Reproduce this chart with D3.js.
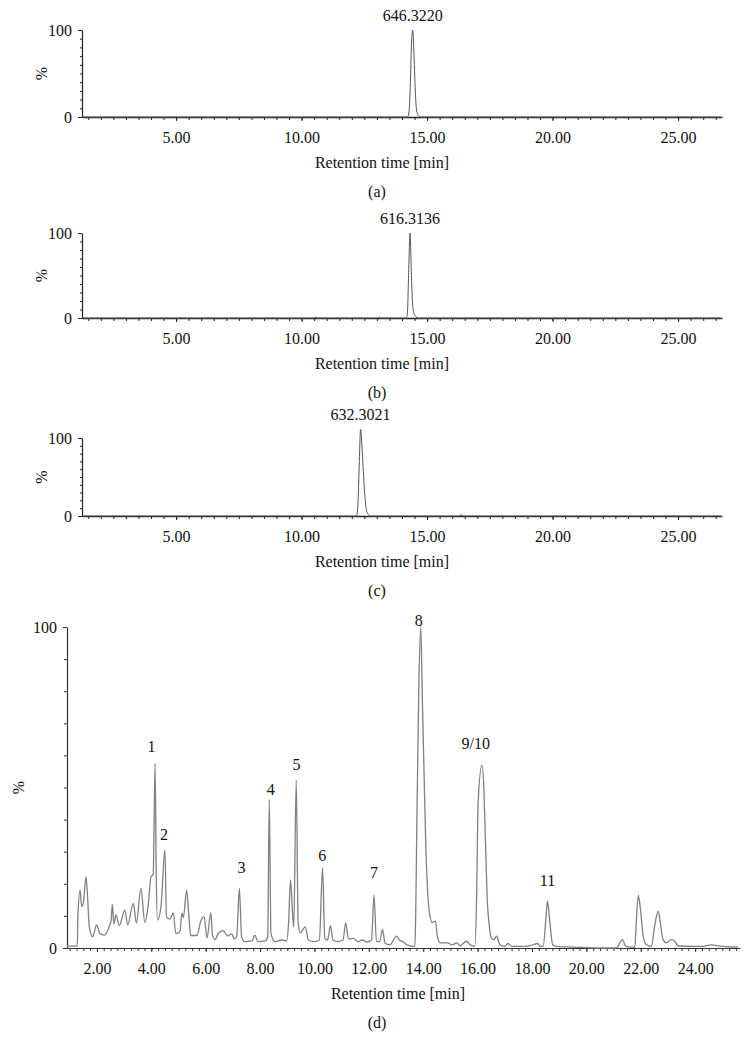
<!DOCTYPE html>
<html>
<head>
<meta charset="utf-8">
<script src="https://cdn.jsdelivr.net/npm/d3@7"></script>
<style>
  body { margin: 0; background: #fff; }
  text { font-family: "Liberation Serif", "DejaVu Serif", serif; fill: #111; }
</style>
</head>
<body>
<svg id="chart" width="755" height="1057"></svg>
<script>
// ---- panel (a): m/z 646.3220 ----
let aTime = [1.3, 14.22, 14.28, 14.34, 14.38, 14.43, 14.48, 14.53, 14.58, 14.65, 14.75, 26.7];
let aPct  = [0,   0,     6,     45,    85,    100,   70,    30,    8,     2,     0,     0];

// ---- panel (b): m/z 616.3136 ----
let bTime = [1.3, 10.5, 10.57, 10.64, 13.05, 13.1, 13.15, 14.18, 14.22, 14.27, 14.32, 14.37, 14.42, 14.48, 14.56, 14.66, 26.7];
let bPct  = [0,   0,    1.2,   0,     0,     1,    0,     0,     8,     60,    100,   55,    18,    5,     1.5,   0,     0];

// ---- panel (c): m/z 632.3021 ----
let cTime = [1.3, 12.19, 12.25, 12.3, 12.35, 12.42, 12.5, 12.58, 12.66, 12.75, 16.25, 16.35, 16.45, 26.7];
let cPct  = [0,   0,     20,    70,   111,   80,    35,   8,     2,     0,     0,     1.5,   0,     0];

let singleLabels = ["646.3220", "616.3136", "632.3021"];
let singleTicks = [5, 10, 15, 20, 25];

// ---- panel (d): total ion chromatogram ----
let dTime = [0.90, 1.28, 1.30, 1.38, 1.44, 1.50, 1.60, 1.65, 1.72, 1.84, 1.99, 2.10, 2.28, 2.45, 2.52, 2.57, 2.62, 2.70, 2.82, 3.03,
             3.13, 3.34, 3.45, 3.62, 3.76, 3.88, 3.99, 4.07, 4.14, 4.18, 4.23, 4.36, 4.50, 4.56, 4.68, 4.81, 4.90, 5.05, 5.13, 5.18,
             5.30, 5.38, 5.45, 5.68, 5.82, 5.94, 6.05, 6.19, 6.25, 6.35, 6.46, 6.65, 6.80, 6.96, 7.05, 7.14, 7.24, 7.32, 7.44, 7.70,
             7.81, 7.92, 8.20, 8.28, 8.34, 8.40, 8.55, 8.80, 8.98, 9.05, 9.12, 9.20, 9.24, 9.33, 9.40, 9.48, 9.66, 9.78, 10.00, 10.18,
             10.30, 10.38, 10.48, 10.59, 10.68, 10.85, 11.05, 11.15, 11.25, 11.43, 11.60, 11.75, 11.95, 12.10, 12.19, 12.28, 12.40, 12.50, 12.60, 12.77,
             13.02, 13.12, 13.25, 13.40, 13.69, 13.72, 13.76, 13.84, 13.91, 13.97, 14.04, 14.10, 14.16, 14.23, 14.33, 14.45, 14.52, 14.62, 14.90, 15.05,
             15.25, 15.35, 15.59, 15.72, 15.90, 15.96, 16.02, 16.16, 16.23, 16.29, 16.35, 16.43, 16.51, 16.60, 16.70, 16.82, 17.00, 17.12, 17.25, 17.70,
             18.05, 18.20, 18.30, 18.41, 18.51, 18.57, 18.66, 18.76, 18.90, 19.50, 20.50, 21.11, 21.23, 21.33, 21.45, 21.78, 21.84, 21.91, 21.99, 22.09,
             22.21, 22.39, 22.51, 22.64, 22.72, 22.82, 22.94, 23.13, 23.25, 23.37, 23.92, 24.29, 24.60, 24.72, 25.03, 25.58];
let dPct  = [0.6, 0.6, 9.8, 18.0, 12.9, 14.0, 22.2, 17.0, 6.6, 3.5, 7.2, 4.7, 4.0, 6.6, 8.5, 13.6, 7.5, 10.3, 7.0, 11.8,
             7.2, 13.9, 7.8, 18.6, 8.0, 12.9, 22.2, 23.0, 57.5, 24.0, 8.7, 13.2, 30.5, 9.6, 9.0, 10.9, 4.5, 5.0, 10.9, 9.5,
             18.0, 10.0, 3.9, 3.9, 8.4, 9.8, 3.2, 11.0, 4.0, 2.6, 4.5, 5.4, 3.8, 4.4, 2.8, 3.5, 18.6, 3.5, 2.0, 2.2,
             4.0, 2.0, 2.2, 3.5, 46.3, 4.5, 2.0, 2.5, 2.2, 8.0, 21.2, 10.0, 6.6, 52.3, 8.0, 4.7, 6.6, 2.5, 2.0, 2.5,
             25.0, 3.0, 2.5, 7.0, 2.5, 2.0, 2.5, 7.8, 2.8, 3.0, 2.0, 2.5, 1.8, 2.5, 16.5, 2.0, 2.0, 5.8, 1.5, 1.0,
             3.7, 2.5, 2.0, 1.0, 0.5, 8.0, 35.0, 82.0, 100, 77.0, 51.0, 30.0, 18.0, 11.0, 7.9, 8.4, 3.7, 1.6, 1.6, 1.0,
             1.6, 0.7, 2.1, 1.0, 0.5, 14.0, 45.5, 57.0, 49.7, 33.0, 16.2, 6.8, 3.1, 2.6, 3.7, 1.0, 0.5, 1.4, 0.5, 0.5,
             1.0, 1.4, 0.5, 0.5, 8.9, 14.7, 7.8, 1.0, 0.5, 0.3, 0.0, 0.0, 1.6, 2.6, 0.5, 0.2, 8.9, 16.4, 12.0, 3.7,
             1.0, 0.5, 6.8, 11.5, 7.9, 2.6, 1.6, 2.6, 2.1, 0.7, 0.5, 0.5, 1.0, 0.8, 0.5, 0.3];

let dLabels    = ["1", "2", "3", "4", "5", "6", "7", "8", "9/10", "11"];
let dLabelTime = [4.01, 4.47, 7.32, 8.39, 9.34, 10.29, 12.19, 13.84, 15.93, 18.57];
let dLabelPct  = [62.9, 35.5, 25.2, 49.5, 57.3, 28.7, 23.7, 102.2, 63.6, 21.2];
let dTicks = [2, 4, 6, 8, 10, 12, 14, 16, 18, 20, 22, 24];

const svg = d3.select("#chart");
const fmt = d => d.toFixed(2);
const fontSize = "16px";

function drawPanel(p) {
  const x = d3.scaleLinear().domain(p.xDomain).range([p.left, p.right]);
  const y = d3.scaleLinear().domain([0, 100]).range([p.bottom, p.top]);
  const g = svg.append("g");

  // minor x ticks
  g.append("g")
    .attr("transform", `translate(0,${p.bottom})`)
    .call(d3.axisBottom(x).tickValues(d3.range(p.minorStart, p.xDomain[1], p.minorStep)).tickSize(3).tickFormat(""))
    .call(a => a.select(".domain").remove())
    .selectAll("line").attr("stroke", p.axisColor);

  // labelled x ticks and axis line
  const xa = g.append("g")
    .attr("transform", `translate(0,${p.bottom})`)
    .call(d3.axisBottom(x).tickValues(p.ticks).tickFormat(fmt).tickSize(4).tickPadding(11).tickSizeOuter(0));
  xa.select(".domain").attr("stroke", p.axisColor).attr("stroke-width", p.axisWidth);
  xa.selectAll("line").attr("stroke", p.axisColor);
  xa.selectAll("text").style("font-size", fontSize).style("font-family", '"Liberation Serif", serif').attr("fill", "#111");

  // y axis: minor ticks every 10 %
  g.append("g")
    .attr("transform", `translate(${p.left},0)`)
    .call(d3.axisLeft(y).tickValues(d3.range(10, 100, 10)).tickSize(p.yMinor).tickFormat(""))
    .call(a => a.select(".domain").remove())
    .selectAll("line").attr("stroke", p.axisColor);

  const ya = g.append("g")
    .attr("transform", `translate(${p.left},0)`)
    .call(d3.axisLeft(y).tickValues([0, 100]).tickSize(4).tickPadding(p.yPad).tickSizeOuter(0));
  ya.select(".domain").attr("stroke", p.axisColor).attr("stroke-width", 1.2);
  ya.selectAll("line").attr("stroke", p.axisColor);
  ya.selectAll("text").style("font-size", fontSize).style("font-family", '"Liberation Serif", serif').attr("fill", "#111");

  // trace
  const line = d3.line()
    .x(d => x(d[0]))
    .y(d => y(d[1]))
    .curve(d3.curveMonotoneX);
  g.append("path")
    .datum(d3.zip(p.time, p.pct))
    .attr("fill", "none")
    .attr("stroke", p.traceColor)
    .attr("stroke-width", p.traceWidth)
    .attr("stroke-linejoin", "round")
    .attr("d", line);

  // y title
  g.append("text")
    .attr("transform", `translate(${p.yTitleX},${(p.top + p.bottom) / 2}) rotate(-90)`)
    .attr("text-anchor", "middle")
    .attr("dy", "0.35em")
    .style("font-size", fontSize)
    .text("%");

  // x title and panel letter
  g.append("text")
    .attr("x", p.xTitleX).attr("y", p.bottom + 45)
    .attr("text-anchor", "middle").attr("dy", "0.35em")
    .style("font-size", fontSize)
    .text("Retention time [min]");
  g.append("text")
    .attr("x", 377).attr("y", p.bottom + 74)
    .attr("text-anchor", "middle").attr("dy", "0.35em")
    .style("font-size", fontSize)
    .text(p.letter);

  return { g, x, y };
}

// single-ion panels
const singles = [
  { time: aTime, pct: aPct, top: 30, bottom: 117, letter: "(a)" },
  { time: bTime, pct: bPct, top: 233, bottom: 318, letter: "(b)" },
  { time: cTime, pct: cPct, top: 438, bottom: 516, letter: "(c)" }
];

singles.forEach((s, i) => {
  const r = drawPanel({
    xDomain: [1.25, 26.75], left: 82, right: 722, top: s.top, bottom: s.bottom,
    time: s.time, pct: s.pct, ticks: singleTicks, minorStart: 1.5, minorStep: 0.5,
    axisColor: "#222", axisWidth: 1.6, yMinor: 2, yPad: 6,
    traceColor: "#555", traceWidth: 1, yTitleX: 41, xTitleX: 382, letter: s.letter
  });
  // mass label over the peak maximum
  const k = d3.maxIndex(s.pct);
  r.g.append("text")
    .attr("x", r.x(s.time[k])).attr("y", r.y(s.pct[k]) - 9)
    .attr("text-anchor", "middle")
    .style("font-size", fontSize)
    .text(singleLabels[i]);
});

// total ion chromatogram
const d = drawPanel({
  xDomain: [0.9, 25.65], left: 67, right: 740, top: 627, bottom: 948,
  time: dTime, pct: dPct, ticks: dTicks, minorStart: 1, minorStep: 0.25,
  axisColor: "#333", axisWidth: 1.2, yMinor: 3, yPad: 6,
  traceColor: "#808080", traceWidth: 1.3, yTitleX: 18, xTitleX: 398, letter: "(d)"
});

d.g.selectAll(".peak-label")
  .data(dLabels)
  .enter()
  .append("text")
  .attr("class", "peak-label")
  .attr("x", (t, i) => d.x(dLabelTime[i]))
  .attr("y", (t, i) => d.y(dLabelPct[i]))
  .attr("dy", "0.35em")
  .attr("text-anchor", "middle")
  .style("font-size", fontSize)
  .text(t => t);
</script>
</body>
</html>
